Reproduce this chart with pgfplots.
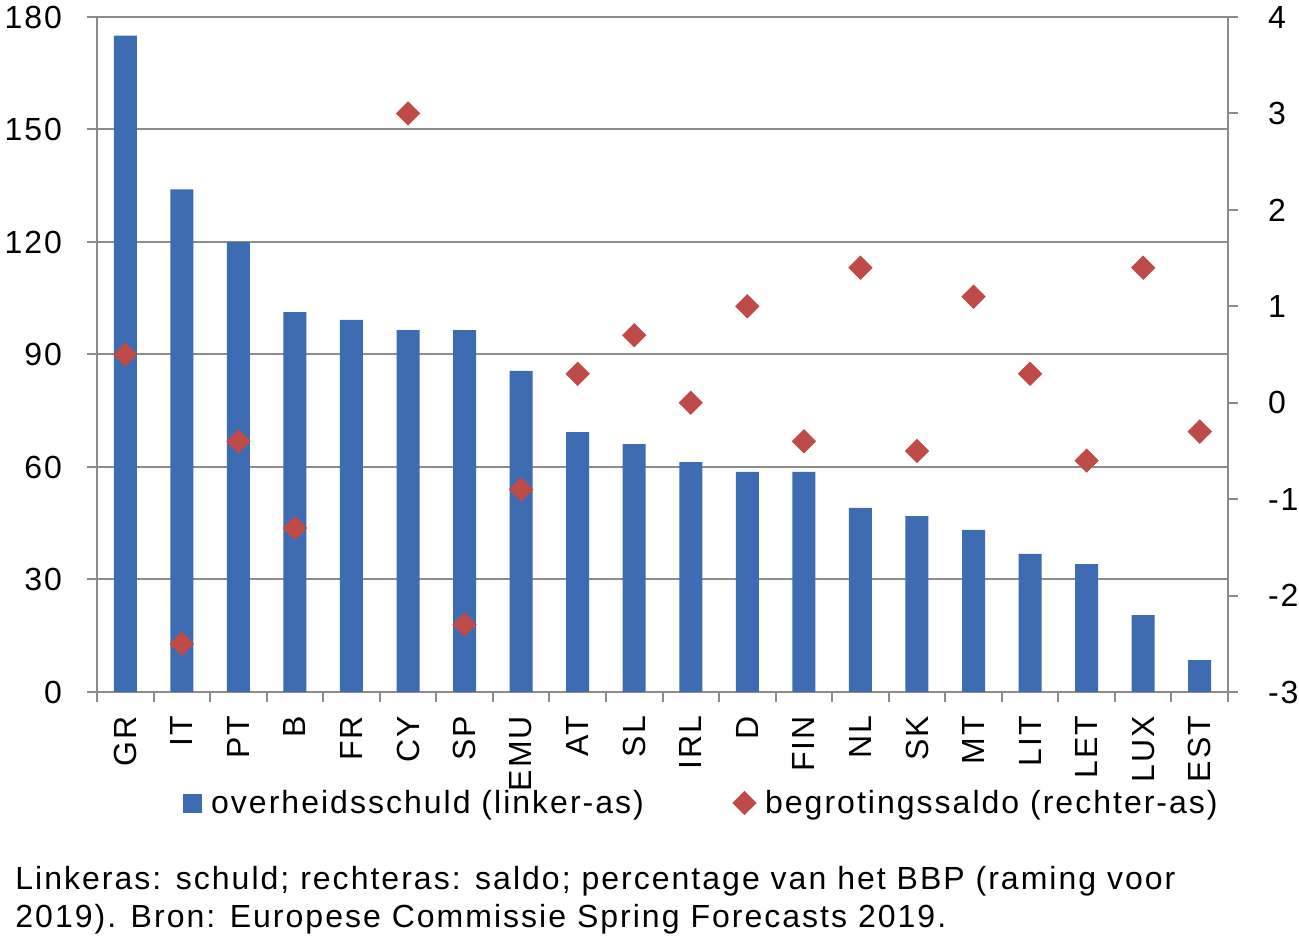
\documentclass[border=0pt]{standalone}
\usepackage{fontspec}
\setmainfont{Liberation Sans}[LetterSpace=6.3]
\usepackage{pgfplots}
\pgfplotsset{compat=1.18}
\definecolor{barblue}{RGB}{62,108,178}
\definecolor{dred}{RGB}{190,75,72}
\definecolor{gridgray}{RGB}{140,140,140}
\newcommand{\lblfont}{\fontsize{16}{19}\selectfont}
\begin{document}
\begin{tikzpicture}
\useasboundingbox (0,0) rectangle (649.5pt,470.5pt);
\pgfplotsset{
  base/.style={
    scale only axis, width=565.5pt, height=337.5pt,
    at={(48.5pt,124.5pt)}, anchor=south west,
    xmin=-0.5, xmax=19.5,
    /pgf/number format/assume math mode=true,
    tick label style={font=\lblfont},
    axis line style={gridgray, line width=1pt},
    tick style={gridgray, line width=1pt},
    tick align=outside, major tick length=5pt,
  }
}
\begin{axis}[base,
  ymin=0, ymax=180, ytick={0,30,...,180},
  axis y line*=left, axis x line*=bottom,
  ymajorgrids, grid style={gridgray, line width=1pt},
  xtick={-0.5,0.5,...,19.5},
  x tick label as interval,
  xticklabels={GR,IT,PT,B,FR,CY,SP,EMU,AT,SL,IRL,D,FIN,NL,SK,MT,LIT,LET,LUX,EST},
  xticklabel style={rotate=90, anchor=east, xshift=-3.5pt},
  yticklabel style={anchor=east, xshift=-9pt},
]
\addplot[ybar, bar width=11.5pt, fill=barblue, draw=none] coordinates {
(0,175) (1,134) (2,120) (3,101.3) (4,99.2) (5,96.5) (6,96.5) (7,85.6) (8,69.3) (9,66.1)
(10,61.3) (11,58.7) (12,58.7) (13,49.1) (14,46.9) (15,43.2) (16,36.8) (17,34.1) (18,20.5) (19,8.5)};
\end{axis}
\begin{axis}[base,
  ymin=-3, ymax=4, ytick={-3,-2,...,4},
  yticklabels={-3,-2,-1,0,1,2,3,4},
  axis y line*=right, axis x line=none,
  yticklabel style={anchor=west, xshift=11.5pt},
  legend columns=2,
  legend style={at={(0.076,-0.1644)}, anchor=west, draw=none, fill=none,
    inner sep=0pt, font=\lblfont,
    nodes={inner xsep=4.5pt},
    /tikz/every even column/.append style={column sep=40pt}},
]
\addlegendimage{legend image code/.code={\fill[barblue] (0pt,-4.5pt) rectangle (9pt,4.5pt);}}
\addlegendentry{overheidsschuld (linker-as)}
\addplot[only marks, mark=square*, mark size=4.1pt,
  mark options={rotate=45, fill=dred, draw=dred}] coordinates {
(0,0.5) (1,-2.5) (2,-0.4) (3,-1.3) (5,3.0) (6,-2.3) (7,-0.9) (8,0.3) (9,0.7)
(10,0.0) (11,1.0) (12,-0.4) (13,1.4) (14,-0.5) (15,1.1) (16,0.3) (17,-0.6) (18,1.4) (19,-0.3)};
\addlegendentry{begrotingssaldo (rechter-as)}
\end{axis}
\node[anchor=base west, inner sep=0pt, font=\lblfont] at (7.5pt,26pt)
  {Linkeras: schuld; rechteras: saldo; percentage van het BBP (raming voor};
\node[anchor=base west, inner sep=0pt, font=\lblfont] at (7.5pt,6.5pt)
  {2019). Bron: Europese Commissie Spring Forecasts 2019.};
\end{tikzpicture}
\end{document}
